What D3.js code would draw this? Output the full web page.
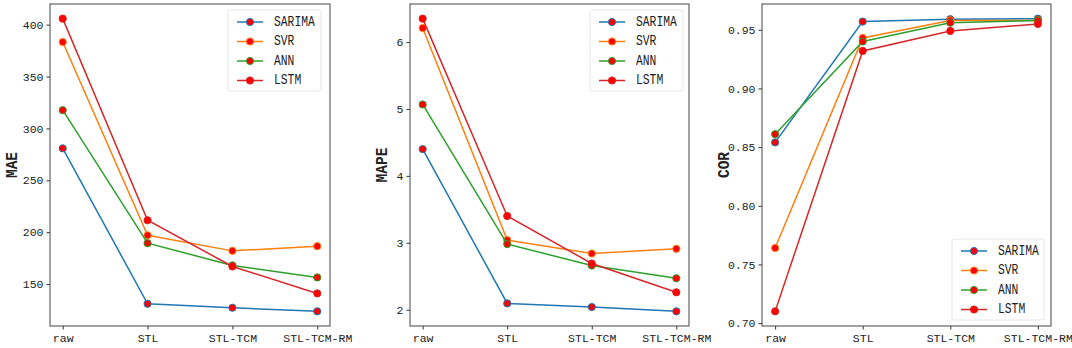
<!DOCTYPE html>
<html>
<head>
<meta charset="utf-8">
<script src="https://cdn.jsdelivr.net/npm/d3@7"></script>
<style>
  body { margin: 0; background: #fff; }
  svg { display: block; }
  text { font-family: "Liberation Mono", "DejaVu Sans Mono", monospace; fill: #222; }
</style>
</head>
<body>
<svg id="chart" width="1072" height="348"></svg>
<script>
const categories = ['raw', 'STL', 'STL-TCM', 'STL-TCM-RM'];
const seriesNames = ['SARIMA', 'SVR', 'ANN', 'LSTM'];
const colors = ['#1f77b4', '#ff7f0e', '#2ca02c', '#d62728'];

const maeSarima = [280.8, 131, 127.2, 123.7];
const maeSvr = [383.3, 197, 182, 186.5];
const maeAnn = [317.6, 189.4, 168, 156.4];
const maeLstm = [405.8, 211.5, 167, 141];

const mapeSarima = [4.40, 2.094, 2.04, 1.975];
const mapeSvr = [6.21, 3.04, 2.84, 2.91];
const mapeAnn = [5.067, 2.98, 2.66, 2.47];
const mapeLstm = [6.35, 3.40, 2.69, 2.26];

const corSarima = [0.854, 0.957, 0.959, 0.9595];
const corSvr = [0.764, 0.943, 0.958, 0.958];
const corAnn = [0.861, 0.940, 0.956, 0.958];
const corLstm = [0.710, 0.932, 0.949, 0.955];

const maeTicks = [150, 200, 250, 300, 350, 400];
const mapeTicks = [2, 3, 4, 5, 6];
const corTicks = [0.70, 0.75, 0.80, 0.85, 0.90, 0.95];

const panels = [
    { label: 'MAE', data: [maeSarima, maeSvr, maeAnn, maeLstm], ticks: maeTicks, fmt: d3.format('d'),
      left: 50, right: 330, labelX: 13, legend: { x: 228, y: 10, w: 93 } },
    { label: 'MAPE', data: [mapeSarima, mapeSvr, mapeAnn, mapeLstm], ticks: mapeTicks, fmt: d3.format('d'),
      left: 410, right: 689, labelX: 383, legend: { x: 590, y: 10, w: 93 } },
    { label: 'COR', data: [corSarima, corSvr, corAnn, corLstm], ticks: corTicks, fmt: d3.format('.2f'),
      left: 762, right: 1051, labelX: 725, legend: { x: 952, y: 239, w: 92 } }
];

const plotTop = 4;
const plotBottom = 326;
const svg = d3.select('#chart');

panels.forEach((p) => {
    const all = p.data.flat();
    const lo = d3.min(all);
    const hi = d3.max(all);
    const pad = (hi - lo) * 0.05;

    const x = d3.scaleLinear()
        .domain([-0.15, categories.length - 1 + 0.15])
        .range([p.left, p.right]);
    const y = d3.scaleLinear()
        .domain([lo - pad, hi + pad])
        .range([plotBottom, plotTop]);

    const g = svg.append('g');

    const xAxis = d3.axisBottom(x)
        .tickValues(d3.range(categories.length))
        .tickFormat((i) => categories[i])
        .tickSize(3.5)
        .tickPadding(4);
    const yAxis = d3.axisLeft(y)
        .tickValues(p.ticks)
        .tickFormat(p.fmt)
        .tickSize(3.5)
        .tickPadding(3);

    g.append('g')
        .attr('transform', `translate(0, ${plotBottom})`)
        .call(xAxis)
        .call((a) => a.select('.domain').remove())
        .selectAll('text')
        .style('font-size', '11.5px')
        .style('font-family', '"Liberation Mono", monospace');
    g.append('g')
        .attr('transform', `translate(${p.left}, 0)`)
        .call(yAxis)
        .call((a) => a.select('.domain').remove())
        .selectAll('text')
        .style('font-size', '11.5px')
        .style('font-family', '"Liberation Mono", monospace');

    g.selectAll('.tick line').attr('stroke', '#333');

    g.append('rect')
        .attr('x', p.left)
        .attr('y', plotTop)
        .attr('width', p.right - p.left)
        .attr('height', plotBottom - plotTop)
        .attr('fill', 'none')
        .attr('stroke', '#444')
        .attr('stroke-width', 1);

    // y label, a little taller to mimic the narrow CJK font
    g.append('text')
        .attr('transform', `translate(${p.labelX}, ${(plotTop + plotBottom) / 2}) rotate(-90) scale(1, 1.15)`)
        .attr('text-anchor', 'middle')
        .attr('dominant-baseline', 'middle')
        .style('font-size', '14.5px')
        .style('font-weight', 'bold')
        .text(p.label);

    const line = d3.line()
        .x((d, i) => x(i))
        .y((d) => y(d));

    p.data.forEach((vals, s) => {
        g.append('path')
            .datum(vals)
            .attr('d', line)
            .attr('fill', 'none')
            .attr('stroke', colors[s])
            .attr('stroke-width', 1.5);
        g.selectAll(null)
            .data(vals)
            .enter()
            .append('circle')
            .attr('cx', (d, i) => x(i))
            .attr('cy', (d) => y(d))
            .attr('r', 3.6)
            .attr('fill', '#ff0000')
            .attr('stroke', colors[s])
            .attr('stroke-width', 1);
    });

    // legend
    const lg = g.append('g')
        .attr('transform', `translate(${p.legend.x}, ${p.legend.y})`);
    lg.append('rect')
        .attr('width', p.legend.w)
        .attr('height', 81)
        .attr('rx', 2)
        .attr('fill', '#fff')
        .attr('fill-opacity', 0.8)
        .attr('stroke', '#e6e6e6');
    seriesNames.forEach((name, s) => {
        const ly = 12 + s * 19.5;
        lg.append('line')
            .attr('x1', 9).attr('x2', 35)
            .attr('y1', ly).attr('y2', ly)
            .attr('stroke', colors[s])
            .attr('stroke-width', 1.5);
        lg.append('circle')
            .attr('cx', 22).attr('cy', ly)
            .attr('r', 3.6)
            .attr('fill', '#ff0000')
            .attr('stroke', colors[s]);
        lg.append('text')
            .attr('transform', `translate(46, ${ly}) scale(0.81, 1)`)
            .attr('dominant-baseline', 'middle')
            .style('font-size', '14px')
            .text(name);
    });
});
</script>
</body>
</html>
